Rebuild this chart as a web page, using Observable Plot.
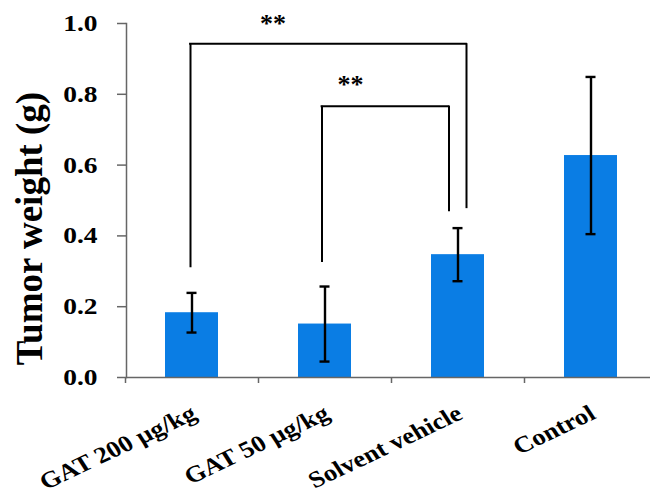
<!DOCTYPE html>
<html><head><meta charset="utf-8">
<script src="https://cdn.jsdelivr.net/npm/d3@7"></script>
<script src="https://cdn.jsdelivr.net/npm/@observablehq/plot@0.6"></script>
<style>body{margin:0;background:#fff}</style>
</head><body><div id="chart"></div>
<script>
const categories = ["GAT 200 µg/kg", "GAT 50 µg/kg", "Solvent vehicle", "Control"];
const means = [0.183, 0.151, 0.347, 0.627];
const errors = [0.056, 0.106, 0.075, 0.222];
const yTicks = [0, 0.2, 0.4, 0.6, 0.8, 1.0];
const yLabel = "Tumor weight (g)";
const bracketFrom = ["GAT 200 µg/kg", "GAT 50 µg/kg"];
const bracketTo = ["Solvent vehicle", "Solvent vehicle"];
const bracketTop = [0.943, 0.766];
const bracketFromBottom = [0.31, 0.325];
const bracketToBottom = [0.477, 0.468];
const bracketLabels = ["**", "**"];
const bracketLabelY = [1.012, 0.838];

const data = categories.map((c, i) => ({c, m: means[i], e: errors[i]}));
const brackets = bracketFrom.map((f, i) => ({
  from: f, to: bracketTo[i], top: bracketTop[i], fb: bracketFromBottom[i],
  tb: bracketToBottom[i], label: bracketLabels[i], ly: bracketLabelY[i]
}));
// pixel offsets (style) for bracket ends and labels
const offs = [{l: -1.5, r: 8.5, ldx: 81, lat: "GAT 200 µg/kg"}, {l: -3, r: -9, ldx: 25.5, lat: "GAT 50 µg/kg"}];
const halfBand = 26.6;
const stretch = 1.17;

const font = "'Liberation Serif', 'Times New Roman', serif";
const axisColor = "#666";

const bracketMarks = brackets.flatMap((b, i) => {
  const o = offs[i];
  return [
    Plot.ruleX([b], {x: "from", y1: "fb", y2: "top", dx: o.l, stroke: "black", strokeWidth: 2}),
    Plot.ruleX([b], {x: "to", y1: "tb", y2: "top", dx: o.r, stroke: "black", strokeWidth: 2}),
    Plot.ruleY([b], {y: "top", x1: "from", x2: "to", insetLeft: halfBand + o.l - 1, insetRight: halfBand - o.r - 1, stroke: "black", strokeWidth: 2}),
    Plot.text([b], {x: () => o.lat, y: "ly", text: "label", dx: o.ldx, dy: 4, fontSize: 26, fontWeight: "bold", fontFamily: font, fill: "black"})
  ];
});

const plot = Plot.plot({
  width: 650, height: 502,
  marginLeft: 126, marginRight: 0, marginTop: 23, marginBottom: 125,
  style: {fontFamily: font, fontWeight: "bold", fontSize: "22px", background: "white", color: "black"},
  x: {domain: categories, range: [125, 657], paddingInner: 0.6, paddingOuter: 0.3, label: null},
  y: {domain: [0, 1], label: null},
  marks: [
    Plot.barY(data, {x: "c", y: "m", fill: "#0a7de4"}),
    Plot.ruleY([0], {stroke: axisColor, strokeWidth: 1.5}),
    Plot.axisY({ticks: yTicks, tickSize: 9, tickPadding: 20, tickFormat: d3.format(".1f"), stroke: axisColor, strokeWidth: 1.5, fontSize: 23.5, fontFamily: font, fontWeight: "bold", fill: "black", label: null}),
    Plot.frame({anchor: "left", stroke: axisColor, strokeWidth: 1.5}),
    Plot.axisX({tickSize: 6, dx: -66.5, tickFormat: () => "", stroke: axisColor, strokeWidth: 1.5, label: null}),
    Plot.axisX({tickSize: 0, tickRotate: -29, tickPadding: 34, dx: 2, fontSize: 23, fontFamily: font, fontWeight: "bold", fill: "black", label: null}),
    Plot.ruleX(data, {x: "c", y1: d => d.m - d.e, y2: d => d.m + d.e, stroke: "black", strokeWidth: 2.4}),
    Plot.tickY(data, {x: "c", y: d => d.m + d.e, insetLeft: 21.5, insetRight: 21.5, stroke: "black", strokeWidth: 2.4}),
    Plot.tickY(data, {x: "c", y: d => d.m - d.e, insetLeft: 21.5, insetRight: 21.5, stroke: "black", strokeWidth: 2.4}),
    ...bracketMarks,
    Plot.text([yLabel], {frameAnchor: "left", textAnchor: "middle", dx: -96, dy: 28, rotate: -90, fontSize: 37, fontWeight: "bold", fontFamily: font, fill: "black"})
  ]
});
// widen tick label glyphs horizontally (screen space) to match the reference's wide rendering
plot.querySelectorAll('[aria-label="y-axis tick label"] text, [aria-label="x-axis tick label"] text').forEach(el => {
  const t = el.getAttribute("transform");
  if (t && /translate\(/.test(t)) {
    el.setAttribute("transform", t.replace(/(translate\([^)]*\))/, `$1 scale(${stretch},1)`));
  } else {
    const x = +(el.getAttribute("x") || 0), y = +(el.getAttribute("y") || 0);
    el.removeAttribute("x"); el.removeAttribute("y");
    el.setAttribute("transform", `translate(${x},${y}) scale(${stretch},1)` + (t ? " " + t : ""));
  }
});
document.getElementById("chart").appendChild(plot);
</script>
</body></html>
